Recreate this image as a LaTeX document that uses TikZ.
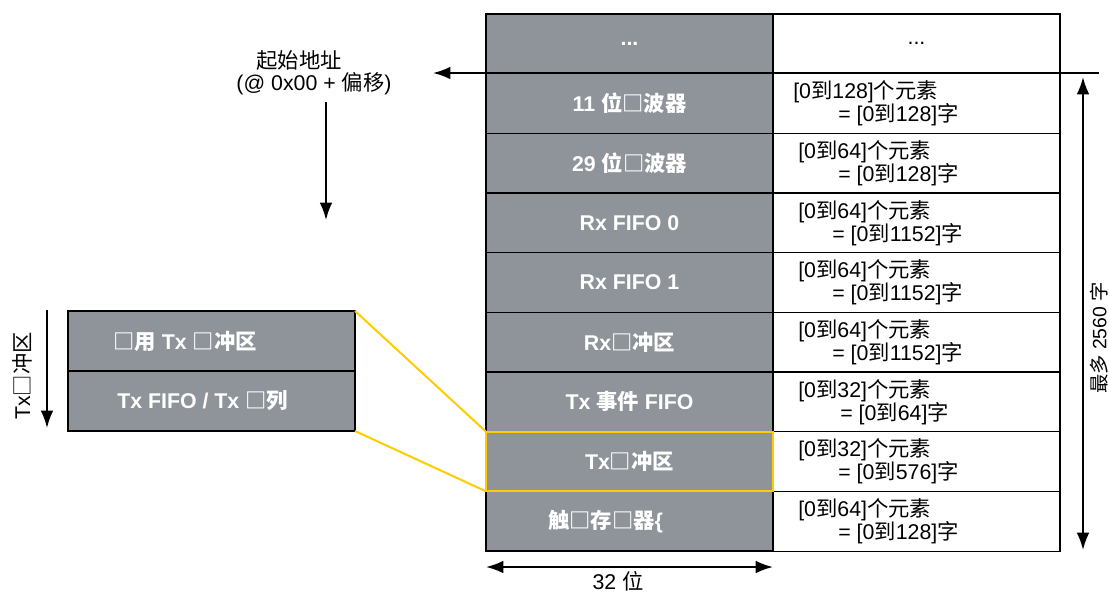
\documentclass[tikz,border=0pt]{standalone}
\usepackage{fontspec}
\setmainfont{Liberation Sans}
\newfontfamily\cjk{Noto Sans CJK SC}
\usetikzlibrary{arrows.meta}
\newcommand\zh[1]{{\cjk #1}}
\newcommand\elem[1]{[0\zh{到}#1]\zh{个元素}}
\newcommand\wrds[1]{= [0\zh{到}#1]\zh{字}}
\definecolor{cellgray}{RGB}{142,148,153}
\definecolor{hl}{RGB}{255,204,0}
\begin{document}
\begin{tikzpicture}[x=0.75pt,y=-0.75pt,
  font=\fontsize{16pt}{18pt}\selectfont,
  gcell/.style={draw=black, line width=1.2pt, fill=cellgray, minimum width=215.25pt, minimum height=44.75pt, inner sep=0pt, outer sep=0pt, font=\fontsize{16pt}{18pt}\selectfont\bfseries, text=white},
  lcell/.style={gcell, minimum height=45pt},
  gtxt/.style={inner sep=0pt, font=\fontsize{16pt}{18pt}\selectfont\bfseries, text=white},
  wcell/.style={draw=black, line width=0.8pt, minimum width=215.25pt, minimum height=44.75pt, inner sep=0pt, outer sep=0pt},
  txt/.style={anchor=west, inner sep=0pt},
  arr/.style={line width=1.5pt, -{Latex[length=13pt,width=9.5pt]}},
  darr/.style={line width=1.5pt, {Latex[length=13pt,width=9.5pt]}-{Latex[length=13pt,width=9.5pt]}},
  hlline/.style={draw=hl, line width=1.5pt}]
\useasboundingbox (0,0) rectangle (1109,593);

% white column
\node[wcell] (w0) at (916.5,43.8) {...};
\node[wcell] (w1) at (916.5,103.5) {};
\node[wcell] (w2) at (916.5,163.2) {};
\node[wcell] (w3) at (916.5,222.8) {};
\node[wcell] (w4) at (916.5,282.5) {};
\node[wcell] (w5) at (916.5,342.2) {};
\node[wcell] (w6) at (916.5,401.8) {};
\node[wcell] (w7) at (916.5,461.5) {};
\node[wcell] (w8) at (916.5,521.2) {};

\node[txt] (w1a) at (793,92) {\elem{128}};
\node[txt] (w1b) at (838,115) {\wrds{128}};
\node[txt] (w2a) at (798,151.7) {\elem{64}};
\node[txt] (w2b) at (838,174.7) {\wrds{128}};
\node[txt] (w3a) at (798,211.3) {\elem{64}};
\node[txt] (w3b) at (832,234.3) {\wrds{1152}};
\node[txt] (w4a) at (798,271) {\elem{64}};
\node[txt] (w4b) at (832,294) {\wrds{1152}};
\node[txt] (w5a) at (798,330.7) {\elem{64}};
\node[txt] (w5b) at (832,353.7) {\wrds{1152}};
\node[txt] (w6a) at (798,390.3) {\elem{32}};
\node[txt] (w6b) at (840,413.3) {\wrds{64}};
\node[txt] (w7a) at (798,450) {\elem{32}};
\node[txt] (w7b) at (838,473) {\wrds{576}};
\node[txt] (w8a) at (798,509.7) {\elem{64}};
\node[txt] (w8b) at (838,532.7) {\wrds{128}};

% gray column
\node[gcell] (g0) at (629.5,43.8) {...};
\node[gcell] (g1) at (629.5,103.5) {11 \zh{位□波器}};
\node[gcell] (g2) at (629.5,163.2) {29 \zh{位□波器}};
\node[gcell] (g3) at (629.5,222.8) {Rx FIFO 0};
\node[gcell] (g4) at (629.5,282.5) {Rx FIFO 1};
\node[gcell] (g5) at (629.5,342.2) {Rx\zh{□冲区}};
\node[gcell] (g6) at (629.5,401.8) {Tx \zh{事件} FIFO};
\node[gcell] (g7) at (629.5,461.5) {Tx\zh{□冲区}};
\node[gcell] (g8) at (629.5,521.2) {};
\node[gtxt] (g8t) at (605.5,521.2) {\zh{触□存□器}\{};

% left box
\node[lcell] (t1) at (211.5,341) {};
\node[lcell] (t2) at (211.5,401) {};
\node[gtxt, anchor=west] (t1t) at (113,341) {\zh{□用} Tx \zh{□冲区}};
\node[gtxt, anchor=west] (t2t) at (117,401) {Tx FIFO / Tx \zh{□列}};

% highlight
\draw[hlline] (t1.north east) -- (g7.north west);
\draw[hlline] (t2.south east) -- (g7.south west);
\draw[hlline] (g7.north west) rectangle (g7.south east);

% start address
\node (sa1) at (299,60) {\zh{起始地址}};
\node (sa2) at (314,84) {(@ 0x00 + \zh{偏移})};
\coordinate (aR) at (1099,73);
\coordinate (aL) at (433,73);
\draw[arr] (aR) -- (aL);
\coordinate (dT) at (326,102);
\coordinate (dB) at (326,220);
\draw[arr] (dT) -- (dB);

% max length
\coordinate (vT) at (1083,77);
\coordinate (vB) at (1083,550);
\draw[darr] (vT) -- (vB);
\node[rotate=90, inner sep=0pt, font=\fontsize{14.5pt}{16pt}\selectfont] (maxl) at (1099,338) {\zh{最多} 2560 \zh{字}};

% Tx buffer arrow
\coordinate (lT) at (47,310);
\coordinate (lB) at (47,428);
\draw[arr] (lT) -- (lB);
\node[rotate=90, inner sep=0pt] (txl) at (22,376) {Tx\zh{□冲区}};

% width
\coordinate (bL) at (486,567);
\coordinate (bR) at (773,567);
\draw[darr] (bL) -- (bR);
\node[inner sep=0pt] (bw) at (618,581) {32 \zh{位}};
\end{tikzpicture}
\end{document}
